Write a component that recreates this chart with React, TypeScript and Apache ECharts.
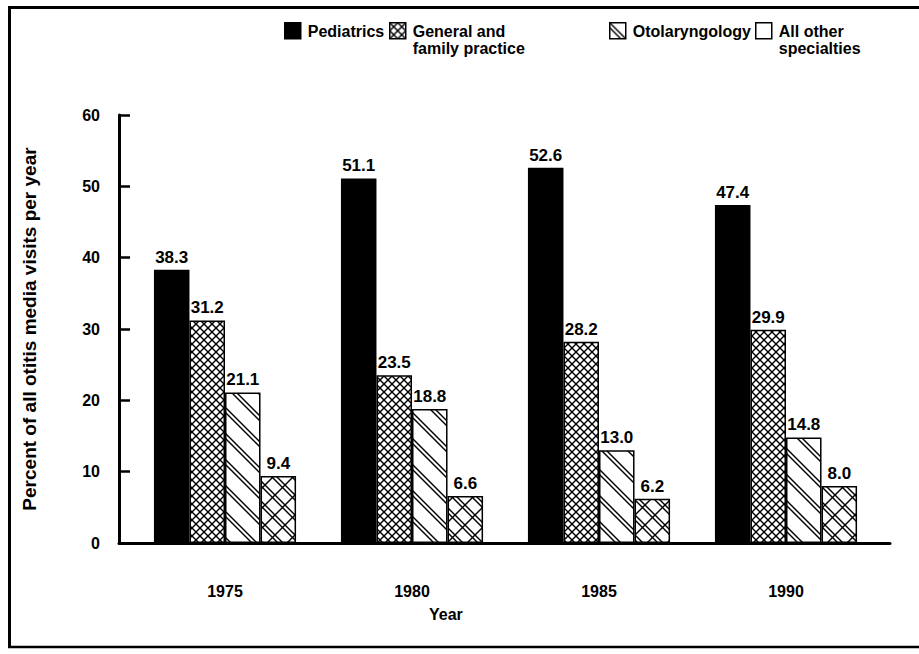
import React, { useEffect, useRef } from "react";
import * as echarts from "echarts";

const years = ["1975", "1980", "1985", "1990"];
const pediatrics = [38.3, 51.1, 52.6, 47.4];
const generalPractice = [31.2, 23.5, 28.2, 29.9];
const otolaryngology = [21.1, 18.8, 13.0, 14.8];
const allOther = [9.4, 6.6, 6.2, 8.0];
const seriesNames = [
  "Pediatrics",
  "General and family practice",
  "Otolaryngology",
  "All other specialties",
];
const legendLabels = [
  "Pediatrics\n ",
  "General and\nfamily practice",
  "Otolaryngology\n ",
  "All other\nspecialties",
];
const yTicks = { min: 0, max: 60, interval: 10 };

const FONT = "'Liberation Sans', Arial, Helvetica, sans-serif";

function makePattern(w: number, h: number, draw: (ctx: CanvasRenderingContext2D) => void) {
  const c = document.createElement("canvas");
  c.width = w;
  c.height = h;
  const ctx = c.getContext("2d")!;
  ctx.fillStyle = "#fff";
  ctx.fillRect(0, 0, w, h);
  ctx.strokeStyle = "#000";
  ctx.lineWidth = 1.4;
  draw(ctx);
  return { image: c.toDataURL(), imageWidth: w, imageHeight: h, repeat: "repeat" } as any;
}

function backslash(ctx: CanvasRenderingContext2D, size: number, offsets: number[]) {
  for (const c0 of offsets) {
    for (const k of [-2, -1, 0, 1, 2]) {
      const c = c0 + k * size;
      ctx.beginPath();
      ctx.moveTo(-4, c - 4);
      ctx.lineTo(size + 4, c + size + 4);
      ctx.stroke();
    }
  }
}
function slash(ctx: CanvasRenderingContext2D, size: number, offsets: number[]) {
  for (const c0 of offsets) {
    for (const k of [-2, -1, 0, 1, 2]) {
      const c = c0 + k * size;
      ctx.beginPath();
      ctx.moveTo(-4, c + 4);
      ctx.lineTo(size + 4, c - size - 4);
      ctx.stroke();
    }
  }
}

export default function App() {
  const ref = useRef<HTMLDivElement>(null);
  useEffect(() => {
    if (!ref.current) return;
    const chart = echarts.init(ref.current, null, { renderer: "svg" });

    const crossFine = makePattern(8, 8, (ctx) => {
      backslash(ctx, 8, [0]);
      slash(ctx, 8, [0]);
    });
    const diagPairs = makePattern(26, 26, (ctx) => {
      backslash(ctx, 26, [0, 5]);
    });
    const crossCoarse = makePattern(20, 20, (ctx) => {
      backslash(ctx, 20, [0, 5]);
      slash(ctx, 20, [10]);
    });

    const fills = ["#000", crossFine, diagPairs, crossCoarse];
    const legendFills = ["#000", crossFine, diagPairs, "#fff"];
    const values = [pediatrics, generalPractice, otolaryngology, allOther];
    const legendLefts = [284, 389, 609, 755];

    const iconPath = "path://M0,0L16,0L16,16L0,16Z M0,34L0,34";

    const series = values.map((vals, i) => ({
      name: seriesNames[i],
      type: "bar",
      xAxisIndex: 0,
      yAxisIndex: 0,
      data: vals,
      barGap: "0%",
      barCategoryGap: "24%",
      itemStyle: {
        color: fills[i],
        borderColor: "#000",
        borderWidth: 1.5,
      },
      label: {
        show: true,
        position: "top",
        distance: 4,
        color: "#000",
        fontFamily: FONT,
        fontWeight: "bold",
        fontSize: 17,
        formatter: (p: any) => Number(p.value).toFixed(1),
      },
    }));

    const legends = seriesNames.map((n, i) => ({
      show: true,
      data: [{ name: n, itemStyle: { color: legendFills[i], borderColor: "#000", borderWidth: 1.5 } }],
      left: legendLefts[i],
      top: 22,
      padding: 0,
      itemWidth: 16,
      itemHeight: 34,
      itemGap: 0,
      icon: iconPath,
      selectedMode: false,
      formatter: () => legendLabels[i],
      textStyle: {
        color: "#000",
        fontFamily: FONT,
        fontWeight: "bold",
        fontSize: 16,
        lineHeight: 17,
        padding: [0, 0, 0, 2],
      },
    }));

    chart.setOption({
      animation: false,
      backgroundColor: "#fff",
      legend: legends,
      grid: [
        { left: 131.5, right: 39.5, top: 115, bottom: 111 },
        { left: 119, right: 29, top: 115, bottom: 111 },
      ],
      xAxis: [
        {
          type: "category",
          gridIndex: 0,
          data: years,
          axisLine: { show: false },
          axisTick: { show: false },
          axisLabel: {
            color: "#000",
            fontFamily: FONT,
            fontWeight: "bold",
            fontSize: 16,
            margin: 40,
          },
        },
        {
          type: "value",
          gridIndex: 1,
          min: 0,
          max: 1,
          axisLine: { show: true, lineStyle: { color: "#000", width: 3 } },
          axisTick: { show: false },
          axisLabel: { show: false },
          splitLine: { show: false },
        },
      ],
      yAxis: [
        {
          type: "value",
          gridIndex: 0,
          min: yTicks.min,
          max: yTicks.max,
          interval: yTicks.interval,
          offset: 12.5,
          name: "Percent of all otitis media visits per year",
          nameLocation: "middle",
          nameGap: 80,
          nameTextStyle: { color: "#000", fontFamily: FONT, fontWeight: "bold", fontSize: 19 },
          axisLine: { show: true, lineStyle: { color: "#000", width: 3 } },
          axisTick: { show: true, inside: true, length: 11, lineStyle: { color: "#000", width: 2.5 } },
          axisLabel: { color: "#000", fontFamily: FONT, fontWeight: "bold", fontSize: 16, margin: 19 },
          splitLine: { show: false },
        },
        {
          type: "value",
          gridIndex: 1,
          min: yTicks.min,
          max: yTicks.max,
          show: false,
        },
      ],
      series,
      graphic: [
        {
          type: "text",
          left: 429,
          top: 606,
          style: { text: "Year", fill: "#000", font: `bold 16px ${FONT}` },
        },
        { type: "line", shape: { x1: 8, y1: 7.5, x2: 919, y2: 7.5 }, style: { stroke: "#000", lineWidth: 3 } },
        { type: "line", shape: { x1: 9.5, y1: 6, x2: 9.5, y2: 648 }, style: { stroke: "#000", lineWidth: 3 } },
        { type: "line", shape: { x1: 8, y1: 647, x2: 919, y2: 647 }, style: { stroke: "#000", lineWidth: 2.5 } },
      ],
    });
    return () => chart.dispose();
  }, []);
  return (
    <div
      ref={ref}
      style={{ position: "absolute", left: 0, top: 0, width: 919, height: 654, background: "#fff" }}
    />
  );
}
